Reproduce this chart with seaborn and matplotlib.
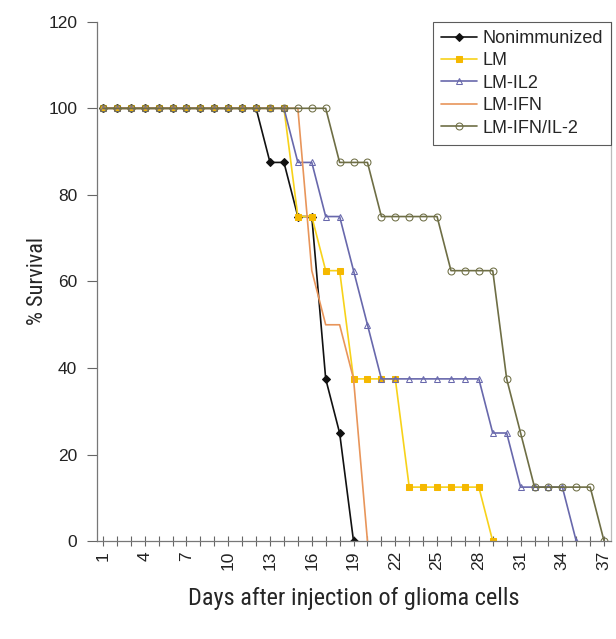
import matplotlib
matplotlib.use("Agg")
import matplotlib.pyplot as plt
import seaborn as sns
import pandas as pd

# Data (percent survival per day, None = no point)
days = list(range(1, 38))
nonimmunized = [100, 100, 100, 100, 100, 100, 100, 100, 100, 100, 100, 100,
                87.5, 87.5, 75, 75, 37.5, 25, 0,
                None, None, None, None, None, None, None, None, None, None,
                None, None, None, None, None, None, None, None]
lm = [100, 100, 100, 100, 100, 100, 100, 100, 100, 100, 100, 100, 100, 100,
      75, 75, 62.5, 62.5, 37.5, 37.5, 37.5, 37.5,
      12.5, 12.5, 12.5, 12.5, 12.5, 12.5, 0,
      None, None, None, None, None, None, None, None]
lm_il2 = [100, 100, 100, 100, 100, 100, 100, 100, 100, 100, 100, 100, 100, 100,
          87.5, 87.5, 75, 75, 62.5, 50,
          37.5, 37.5, 37.5, 37.5, 37.5, 37.5, 37.5, 37.5,
          25, 25, 12.5, 12.5, 12.5, 12.5, 0, None, None]
lm_ifn = [100, 100, 100, 100, 100, 100, 100, 100, 100, 100, 100, 100, 100, 100, 100,
          62.5, 50, 50, 37.5, 0,
          None, None, None, None, None, None, None, None, None, None,
          None, None, None, None, None, None, None]
lm_ifn_il2 = [100, 100, 100, 100, 100, 100, 100, 100, 100, 100, 100, 100, 100, 100,
              100, 100, 100, 87.5, 87.5, 87.5, 75, 75, 75, 75, 75,
              62.5, 62.5, 62.5, 62.5, 37.5, 25,
              12.5, 12.5, 12.5, 12.5, 12.5, 0]

groups = ["Nonimmunized", "LM", "LM-IL2", "LM-IFN", "LM-IFN/IL-2"]
series = [nonimmunized, lm, lm_il2, lm_ifn, lm_ifn_il2]

frames = []
for name, vals in zip(groups, series):
    frames.append(pd.DataFrame({"day": days, "survival": vals, "group": name}))
df = pd.concat(frames).dropna()

styles = {
    "Nonimmunized": dict(color="#111111", marker="D", markersize=4, mfc="#111111", mec="#111111"),
    "LM": dict(color="#F7D21A", marker="s", markersize=5, mfc="#F5B800", mec="#F5B800"),
    "LM-IL2": dict(color="#6868AC", marker="^", markersize=5, mfc="none", mec="#6868AC"),
    "LM-IFN": dict(color="#E8955A", marker=None),
    "LM-IFN/IL-2": dict(color="#6E6E45", marker="o", markersize=5, mfc="none", mec="#6E6E45"),
}

sns.set_style("white")
fig = plt.figure(figsize=(6.16, 6.39), dpi=100)
ax = fig.add_axes([0.157, 0.153, 0.835, 0.813])

for name in groups:
    sub = df[df["group"] == name]
    sns.lineplot(data=sub, x="day", y="survival", ax=ax, label=name,
                 linewidth=1.2, estimator=None, **styles[name])

ax.set_xlim(0.55, 37.5)
ax.set_ylim(0, 120)
ax.set_yticks([0, 20, 40, 60, 80, 100, 120])
ax.set_xticks(days[::3])
ax.set_xticks(days, minor=True)
ax.set_xticklabels([str(d) for d in days[::3]], rotation=90)

tick_font = "Liberation Sans"
for lab in ax.get_xticklabels() + ax.get_yticklabels():
    lab.set_fontfamily(tick_font)
    lab.set_fontsize(12.5)
    lab.set_color("#222222")

ax.tick_params(axis="x", which="both", direction="inout", length=7, width=0.8, color="#666666", bottom=True)
ax.tick_params(axis="y", direction="out", length=7, width=0.8, pad=7, color="#666666", left=True)

ax.spines["top"].set_visible(False)
for side in ["left", "bottom", "right"]:
    ax.spines[side].set_color("#777777")
    ax.spines[side].set_linewidth(0.9)
ax.spines["right"].set_color("#bbbbbb")

narrow = ["Liberation Sans Narrow", "Roboto Condensed", "DejaVu Sans"]
ax.set_xlabel("Days after injection of glioma cells", family=narrow, fontstretch="condensed",
              fontsize=17.5, labelpad=12)
ax.set_ylabel("% Survival", family=narrow, fontstretch="condensed", fontsize=16)
ax.yaxis.set_label_coords(-0.095, 0.5)

leg = ax.legend(loc="upper right", borderaxespad=0, frameon=True, fancybox=False,
                prop={"family": tick_font, "size": 13}, handlelength=2.0,
                handletextpad=0.3, labelspacing=0.3, borderpad=0.45)
leg.get_frame().set_edgecolor("#333333")
leg.get_frame().set_linewidth(0.8)

fig.savefig("out.png", dpi=100)
